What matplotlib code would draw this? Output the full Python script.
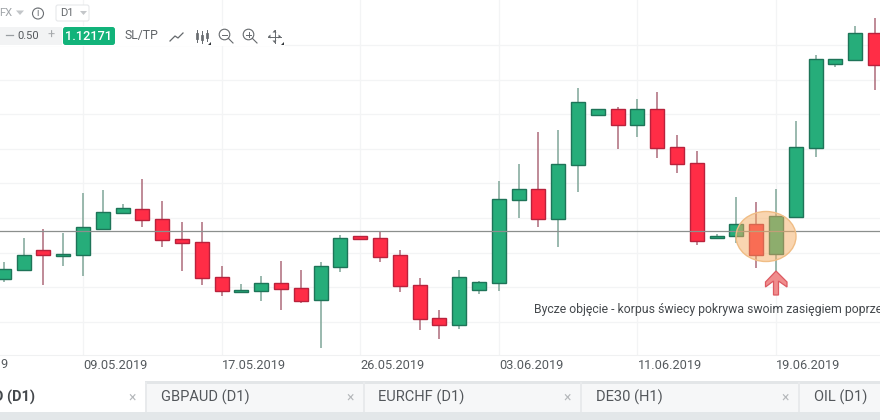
import numpy as np
import matplotlib
matplotlib.use('Agg')
import matplotlib.pyplot as plt
from matplotlib.patches import Ellipse, FancyBboxPatch, Polygon, Rectangle, Circle

plt.rcParams['font.family'] = ['Roboto', 'DejaVu Sans']

# dates of the candles (Sunday sessions included)
dates = ['05.05.2019', '06.05.2019', '07.05.2019', '08.05.2019', '09.05.2019', '10.05.2019',
         '12.05.2019', '13.05.2019', '14.05.2019', '15.05.2019', '16.05.2019', '17.05.2019',
         '19.05.2019', '20.05.2019', '21.05.2019', '22.05.2019', '23.05.2019', '24.05.2019',
         '26.05.2019', '27.05.2019', '28.05.2019', '29.05.2019', '30.05.2019', '31.05.2019',
         '02.06.2019', '03.06.2019', '04.06.2019', '05.06.2019', '06.06.2019', '07.06.2019',
         '09.06.2019', '10.06.2019', '11.06.2019', '12.06.2019', '13.06.2019', '14.06.2019',
         '16.06.2019', '17.06.2019', '18.06.2019', '19.06.2019', '20.06.2019', '21.06.2019',
         '23.06.2019', '24.06.2019', '25.06.2019']

open_ = [1.11934, 1.11978, 1.12078, 1.12047, 1.12052, 1.12181, 1.12263, 1.12283, 1.12233,
         1.12133, 1.12118, 1.11943, 1.11866, 1.11873, 1.11913, 1.11888, 1.11828, 1.11991,
         1.12148, 1.12138, 1.12054, 1.11903, 1.11738, 1.11701, 1.11876, 1.11913, 1.12326,
         1.12383, 1.12233, 1.12503, 1.12753, 1.12783, 1.12703, 1.12783, 1.12593, 1.12513,
         1.12138, 1.12148, 1.12208, 1.12058, 1.12243, 1.12588, 1.13008, 1.13027, 1.13164]
close = [1.11984, 1.12054, 1.12052, 1.12058, 1.12194, 1.12268, 1.12288, 1.12226, 1.12128,
         1.12111, 1.11938, 1.11871, 1.11878, 1.11913, 1.11883, 1.11821, 1.11998, 1.12138,
         1.12131, 1.12043, 1.11896, 1.11733, 1.11701, 1.11943, 1.11918, 1.12333, 1.12383,
         1.12233, 1.12508, 1.12818, 1.12783, 1.12703, 1.12783, 1.12588, 1.12508, 1.12123,
         1.12150, 1.12208, 1.12053, 1.12248, 1.12593, 1.13033, 1.13033, 1.13164, 1.13004]
high = [1.12020, 1.12140, 1.12183, 1.12165, 1.12365, 1.12380, 1.12310, 1.12435, 1.12323,
        1.12220, 1.12220, 1.12000, 1.11910, 1.11950, 1.12025, 1.11980, 1.12020, 1.12155,
        1.12150, 1.12170, 1.12080, 1.11940, 1.11780, 1.11980, 1.11923, 1.12425, 1.12510,
        1.12670, 1.12680, 1.12888, 1.12785, 1.12793, 1.12833, 1.12870, 1.12653, 1.12575,
        1.12160, 1.12343, 1.12318, 1.12385, 1.12723, 1.13055, 1.13035, 1.13200, 1.13239]
low = [1.11916, 1.11977, 1.11905, 1.11996, 1.11946, 1.12180, 1.12256, 1.12191, 1.12095,
       1.11971, 1.11905, 1.11846, 1.11865, 1.11821, 1.11776, 1.11811, 1.11588, 1.11966,
       1.12126, 1.12016, 1.11866, 1.11676, 1.11631, 1.11681, 1.11860, 1.11871, 1.12236,
       1.12195, 1.12091, 1.12366, 1.12746, 1.12581, 1.12641, 1.12536, 1.12461, 1.12101,
       1.12137, 1.12115, 1.11986, 1.11971, 1.12242, 1.12543, 1.12992, 1.13022, 1.12877]

current_price = 1.12171
price_levels = [1.13105, 1.12930, 1.12760, 1.12585, 1.12415, 1.12240, 1.12065, 1.11895, 1.11720]
date_ticks = ['09.05.2019', '17.05.2019', '26.05.2019', '03.06.2019', '11.06.2019', '19.06.2019']
first_label = '01.05.2019'
tabs = ['GBPAUD (D1)', 'EURCHF (D1)', 'DE30 (H1)', 'OIL (D1)']
active_tab = 'EURUSD (D1)'
note = 'Bycze objęcie - korpus świecy pokrywa swoim zasięgiem poprzednią świecę'

GREEN, GREEN_EDGE, GREEN_WICK = '#26ad7a', '#1e7458', '#7fa698'
RED, RED_EDGE, RED_WICK = '#ff2d46', '#b9223c', '#ad6b7a'
ICON = '#65696d'

fig = plt.figure(figsize=(8.8, 4.2), dpi=100)
ax = fig.add_axes([0, 65 / 420, 1, 355 / 420])

x = np.arange(len(dates))
open_, close, high, low = map(np.array, (open_, close, high, low))
up = close >= open_

ax.vlines(x[up], low[up], high[up], color=GREEN_WICK, lw=1.1, zorder=2)
ax.vlines(x[~up], low[~up], high[~up], color=RED_WICK, lw=1.1, zorder=2)
bottoms = np.minimum(open_, close)
heights = np.abs(close - open_)
ax.bar(x[up], heights[up], bottom=bottoms[up], width=0.71, color=GREEN,
       edgecolor=GREEN_EDGE, linewidth=1.0, zorder=3)
ax.bar(x[~up], heights[~up], bottom=bottoms[~up], width=0.71, color=RED,
       edgecolor=RED_EDGE, linewidth=1.0, zorder=3)
ax.axhline(current_price, color='#8b8f8d', lw=0.9, zorder=4)

# 1 candle = 19.8 px, 1 px = 0.00005
ax.set_xlim(-0.195, 44.249)
ax.set_ylim(1.13328 - 355 * 0.00005, 1.13328)
ax.set_yticks(price_levels)
ax.set_yticklabels([])
ax.set_xticks([dates.index(d) for d in date_ticks])
ax.set_xticklabels(date_ticks, ha='left', fontsize=9.2, color='#555a5e')
ax.tick_params(length=0, pad=3)
ax.grid(True, color='#f3f4f5', lw=0.9, zorder=0)
for side in ['top', 'left', 'right']:
    ax.spines[side].set_visible(False)
ax.spines['bottom'].set_color('#f0f1f2')
ax.set_axisbelow(True)
# ta etykieta zaczyna sie poza wykresem, widac tylko koncowke
ax.text(dates.index('05.05.2019') - 3, -10 / 355, first_label, transform=ax.get_xaxis_transform(),
        ha='left', va='center', fontsize=9.2, color='#555a5e')

# nakladka w pikselach: interfejs i adnotacje
ov = fig.add_axes([0, 0, 1, 1], zorder=5)
ov.set_xlim(0, 880)
ov.set_ylim(420, 0)
ov.axis('off')
ov.patch.set_alpha(0)

ov.add_patch(Ellipse((766, 236.5), 60, 50, facecolor='#f5ad62', alpha=0.5, edgecolor='none'))
ov.add_patch(Ellipse((766, 236.5), 60, 50, facecolor='none', edgecolor='#f0bd85', lw=1))
ov.add_patch(Polygon([(776, 271), (787, 282), (787, 287), (778.5, 281), (778.5, 295), (773.5, 295),
                      (773.5, 281), (765.5, 287), (765.5, 282)],
                     closed=True, facecolor='#f08d8d', edgecolor='#dc5a62', lw=0.9))
ov.text(534.5, 309, note, ha='left', va='center', fontsize=8.8, color='#45494d', clip_on=True)

# pasek narzedzi
ov.add_patch(Rectangle((0, 26), 285, 20, facecolor='white', edgecolor='none'))
ov.text(-1, 13, 'FX', ha='left', va='center', fontsize=8, color='#a0a4a8')
ov.add_patch(Polygon([(16, 10.5), (24, 10.5), (20, 15)], facecolor='#c3c6c9', edgecolor='none'))
ov.add_patch(Circle((38, 13.5), 5.5, facecolor='white', edgecolor='#6b6f73', lw=0.8))
ov.text(38, 13.5, 'i', ha='center', va='center', fontsize=7, color='#6b6f73')
ov.add_patch(FancyBboxPatch((56, 5), 33, 16, boxstyle='round,pad=0,rounding_size=2',
                            facecolor='white', edgecolor='#e6e8ea', lw=0.8))
ov.text(60.5, 13.5, 'D1', ha='left', va='center', fontsize=8, color='#666a6e')
ov.add_patch(Polygon([(80, 11), (87, 11), (83.5, 15)], facecolor='#c3c6c9', edgecolor='none'))

ov.add_patch(Rectangle((0, 27), 62, 18, facecolor='#f2f3f4', edgecolor='none'))
ov.plot([6, 13], [35, 35], color='#9a9ea2', lw=0.9)
ov.text(28, 36, '0.50', ha='center', va='center', fontsize=8, color='#54585c')
ov.text(51, 35, '+', ha='center', va='center', fontsize=9, color='#a6a9ac')
ov.add_patch(FancyBboxPatch((63, 27), 52, 18, boxstyle='round,pad=0,rounding_size=2.5',
                            facecolor='#12b37a', edgecolor='none'))
ov.text(89, 36.5, '1.12171', ha='center', va='center', fontsize=9.2, color='white', fontweight='medium')
ov.text(141, 36, 'SL/TP', ha='center', va='center', fontsize=8.8, color='#5f6367')

# ikony
ov.plot([170, 175, 178, 183], [41, 36, 38, 33], color=ICON, lw=0.9)
for cx, top, bot, y0, y1 in [(197, 30, 42, 33, 39), (202, 31, 43, 35, 40), (207, 30, 41, 33, 38)]:
    ov.plot([cx, cx], [top, bot], color=ICON, lw=0.7)
    ov.add_patch(Rectangle((cx - 1.3, y0), 2.6, y1 - y0, facecolor='white', edgecolor=ICON, lw=0.6))
ov.add_patch(Polygon([(208, 45), (211, 45), (211, 42)], facecolor='#33373b', edgecolor='none'))
for cx, plus in [(224.5, False), (248.5, True)]:
    ov.add_patch(Circle((cx, 34.5), 5.3, facecolor='none', edgecolor=ICON, lw=0.8))
    ov.plot([cx + 3.8, cx + 8.5], [38.3, 43], color=ICON, lw=0.8)
    ov.plot([cx - 2.6, cx + 2.6], [34.5, 34.5], color=ICON, lw=0.7)
    if plus:
        ov.plot([cx, cx], [32, 37], color=ICON, lw=0.7)
ov.plot([268, 281], [36.5, 36.5], color=ICON, lw=0.7)
ov.plot([274.5, 274.5], [30, 43], color=ICON, lw=0.7)
for tip, a, b in [((268, 36.5), (270.5, 34.5), (270.5, 38.5)), ((281, 36.5), (278.5, 34.5), (278.5, 38.5)),
                  ((274.5, 30), (272.5, 32.5), (276.5, 32.5)), ((274.5, 43), (272.5, 40.5), (276.5, 40.5))]:
    ov.add_patch(Polygon([tip, a, b], facecolor=ICON, edgecolor='none'))
ov.add_patch(Polygon([(281, 45), (284, 45), (284, 42)], facecolor='#33373b', edgecolor='none'))

# zakladki na dole
ov.add_patch(Rectangle((0, 381), 880, 31, facecolor='#f6f7f8', edgecolor='none'))
ov.add_patch(Rectangle((145, 381), 735, 3, facecolor='#e3e6e8', edgecolor='none'))
ov.add_patch(Rectangle((0, 381), 145, 31, facecolor='white', edgecolor='none'))
ov.add_patch(Rectangle((0, 412), 880, 8, facecolor='#e3e7e9', edgecolor='none'))
for sep in [145, 363, 580, 798]:
    ov.add_patch(Rectangle((sep, 382), 2, 30, facecolor='#e8eaec', edgecolor='none'))
ov.text(35, 397, active_tab, ha='right', va='center', fontsize=10.5, fontweight='bold', color='#44484c')
for name, tx in zip(tabs, [161, 378, 596, 813.5]):
    ov.text(tx, 397, name, ha='left', va='center', fontsize=10.5, color='#53575b')
for cx in [132.5, 350.5, 567, 785]:
    ov.text(cx, 398, '×', ha='center', va='center', fontsize=10, color='#b5b8bb')

fig.savefig('out.png', dpi=100)
